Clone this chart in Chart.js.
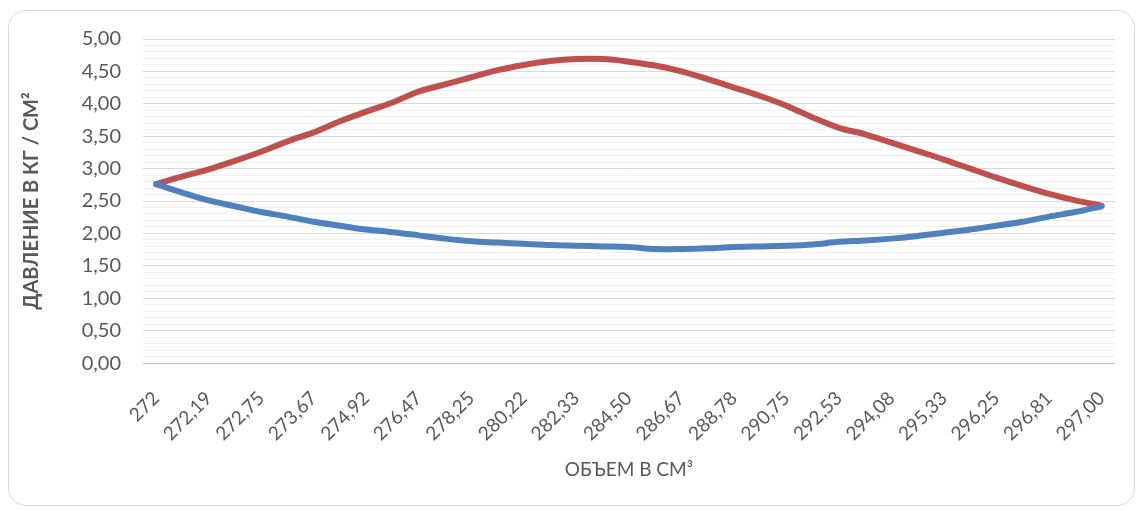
<!DOCTYPE html>
<html>
<head>
<meta charset="utf-8">
<script src="https://cdn.jsdelivr.net/npm/chart.js@4/dist/chart.umd.min.js"></script>
<style>
    html, body { margin: 0; padding: 0; background: #fff; }
    #frame {
        position: absolute;
        left: 8px; top: 10px;
        width: 1127px; height: 496px;
        border: 1px solid #d9d9d9;
        border-radius: 18px;
        box-sizing: border-box;
    }
    #wrap { position: absolute; left: 0; top: 0; width: 1142px; height: 511px; }
</style>
</head>
<body>
<div id="frame"></div>
<div id="wrap"><canvas id="canvas"></canvas></div>

<script>
    // объем (ось X), 37 точек, подписи показаны через одну
    var volumes = ['272', '272,05', '272,19', '272,43', '272,75', '273,17', '273,67', '274,26', '274,92',
        '275,66', '276,47', '277,33', '278,25', '279,22', '280,22', '281,26', '282,33', '283,41', '284,50',
        '285,59', '286,67', '287,74', '288,78', '289,78', '290,75', '291,67', '292,53', '293,34', '294,08',
        '294,74', '295,33', '295,83', '296,25', '296,57', '296,81', '296,95', '297,00'];

    // давление, кг/см²
    var pressureLow = [2.76, 2.63, 2.51, 2.42, 2.33, 2.26, 2.18, 2.12, 2.06, 2.02, 1.97, 1.92, 1.88,
        1.86, 1.84, 1.82, 1.81, 1.80, 1.79, 1.76, 1.76, 1.77, 1.79, 1.80, 1.81, 1.83, 1.87, 1.89,
        1.92, 1.96, 2.01, 2.06, 2.12, 2.18, 2.26, 2.33, 2.42];

    var pressureHigh = [2.76, 2.88, 2.99, 3.12, 3.26, 3.42, 3.56, 3.73, 3.88, 4.02, 4.19, 4.30, 4.41,
        4.52, 4.60, 4.66, 4.69, 4.69, 4.65, 4.59, 4.50, 4.38, 4.25, 4.12, 3.97, 3.79, 3.63, 3.53,
        3.40, 3.27, 3.14, 3.00, 2.86, 2.73, 2.61, 2.51, 2.43];

    var yMin = 0, yMax = 5, yStep = 0.1, yMajor = 0.5;

    var FONT = 'Lato, "Open Sans", sans-serif';
    var GREY = '#595959';

    function isMajor(v) {
        return Math.abs(Math.round(v / yMajor) * yMajor - v) < 1e-6;
    }

    var ctx = document.getElementById('canvas').getContext('2d');

    var chart = new Chart(ctx, {
        type: 'line',
        data: {
            labels: volumes,
            datasets: [{
                label: 'Ряд1',
                data: pressureLow,
                borderColor: '#4f81bd',
                backgroundColor: '#4f81bd',
                borderWidth: 6,
                pointRadius: 0,
                tension: 0.3,
                borderCapStyle: 'round'
            }, {
                label: 'Ряд2',
                data: pressureHigh,
                borderColor: '#c0504d',
                backgroundColor: '#c0504d',
                borderWidth: 6,
                pointRadius: 0,
                tension: 0.3,
                borderCapStyle: 'round'
            }]
        },
        options: {
            responsive: true,
            maintainAspectRatio: false,
            animation: false,
            layout: {
                padding: { left: 20, right: 25, top: 39, bottom: 30 }
            },
            plugins: {
                legend: { display: false },
                tooltip: { enabled: false }
            },
            scales: {
                x: {
                    offset: true,
                    grid: { display: false, drawTicks: false },
                    border: { display: true, color: '#bfbfbf', width: 1 },
                    ticks: {
                        autoSkip: false,
                        minRotation: 45,
                        maxRotation: 45,
                        padding: 24,
                        color: GREY,
                        font: { family: FONT, size: 19 },
                        callback: function (val, idx) {
                            return idx % 2 ? '' : volumes[idx];
                        }
                    },
                    title: {
                        display: true,
                        text: 'ОБЪЕМ В СМ³',
                        color: GREY,
                        font: { family: FONT, size: 19 },
                        padding: { top: -11, bottom: 0 }
                    }
                },
                y: {
                    min: yMin,
                    max: yMax,
                    border: { display: false },
                    grid: {
                        drawTicks: false,
                        color: function (c) {
                            if (c.tick && Math.abs(c.tick.value) < 1e-6) return '#bfbfbf';
                            return c.tick && isMajor(c.tick.value) ? '#d9d9d9' : '#f0f0f0';
                        }
                    },
                    ticks: {
                        stepSize: yStep,
                        autoSkip: false,
                        padding: 22,
                        color: GREY,
                        font: { family: FONT, size: 20 },
                        callback: function (v) {
                            return isMajor(v) ? v.toFixed(2).replace('.', ',') : '';
                        }
                    },
                    title: {
                        display: true,
                        text: 'ДАВЛЕНИЕ В КГ / СМ²',
                        color: GREY,
                        font: { family: FONT, size: 20, weight: 'bold' },
                        padding: { top: 0, bottom: 8 }
                    },
                    afterFit: function (scale) {
                        scale.width = 123;
                    }
                }
            }
        }
    });
</script>
</body>
</html>
